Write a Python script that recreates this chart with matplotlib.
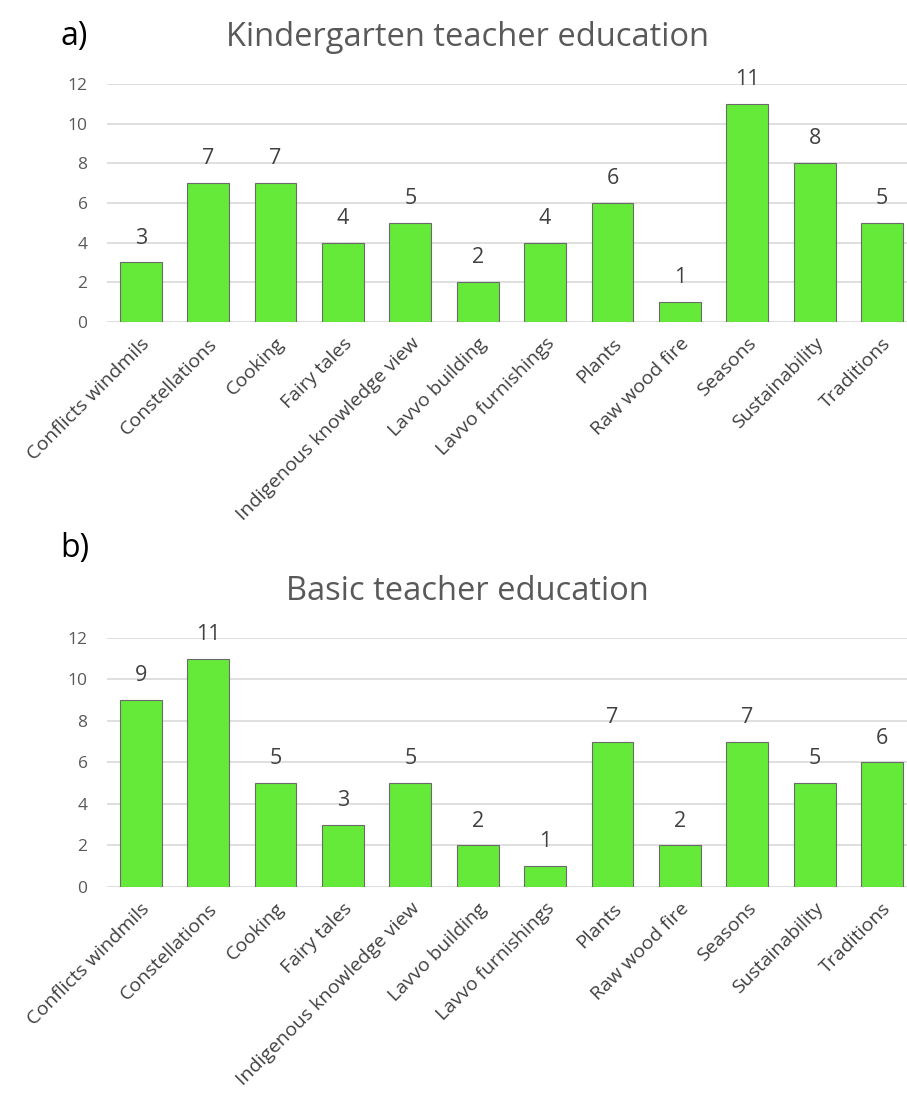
import numpy as np
import matplotlib.pyplot as plt

plt.rcParams['font.family'] = ['Open Sans', 'DejaVu Sans']

categories = ['Conflicts windmils', 'Constellations', 'Cooking', 'Fairy tales',
              'Indigenous knowledge view', 'Lavvo building', 'Lavvo furnishings',
              'Plants', 'Raw wood fire', 'Seasons', 'Sustainability', 'Traditions']
kindergarten = [3, 7, 7, 4, 5, 2, 4, 6, 1, 11, 8, 5]
basic = [9, 11, 5, 3, 5, 2, 1, 7, 2, 7, 5, 6]

bar_color = '#66ea3a'
text_color = '#404040'

fig = plt.figure(figsize=(9.07, 10.99), dpi=100)

def draw(ax, values):
    x = np.arange(len(categories))
    bars = ax.bar(x, values, width=0.62, color=bar_color, edgecolor='#6a6a6a', linewidth=0.8, zorder=3)
    ax.bar_label(bars, labels=[str(v) for v in values], padding=10, fontsize=15.5, color=text_color)
    ax.set_ylim(0, 12)
    ax.set_yticks(range(0, 13, 2))
    ax.set_xlim(-0.5, 11.37)
    ax.set_xticks(x)
    ax.set_xticklabels(categories, rotation=45, ha='right', rotation_mode='anchor',
                       fontsize=14, color=text_color)
    ax.tick_params(axis='y', labelsize=12.5, colors='#595959', length=0, pad=14)
    ax.tick_params(axis='x', length=0, pad=9)
    ax.yaxis.grid(True, color='#d9d9d9', linewidth=1.2, zorder=0)
    for s in ax.spines.values():
        s.set_visible(False)

ax1 = fig.add_axes([0.118, 0.707, 0.882, 0.2166])
draw(ax1, kindergarten)
ax2 = fig.add_axes([0.118, 0.1929, 0.882, 0.2266])
draw(ax2, basic)

fig.text(0.515, 1 - 37 / 1099, 'Kindergarten teacher education', ha='center', va='center',
         fontsize=23.5, color='#595959')
fig.text(0.515, 1 - 591 / 1099, 'Basic teacher education', ha='center', va='center',
         fontsize=23.5, color='#595959')
fig.text(60 / 907, 1 - 37 / 1099, 'a)', ha='left', va='center', fontsize=23, color='black')
fig.text(60 / 907, 1 - 548 / 1099, 'b)', ha='left', va='center', fontsize=23, color='black')

fig.savefig('out.png', dpi=100, facecolor='white')
